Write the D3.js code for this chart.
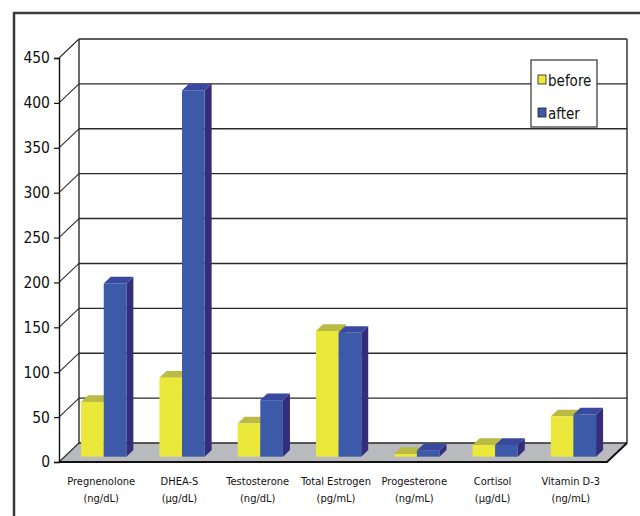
<!DOCTYPE html>
<html>
<head>
<meta charset="utf-8">
<script src="https://cdn.jsdelivr.net/npm/d3@7"></script>
<style>
html,body{margin:0;padding:0;background:#fff;}
svg{display:block;}
text{font-family:"Liberation Sans Narrow","DejaVu Sans Condensed","Arial Narrow",sans-serif;fill:#111;}
</style>
</head>
<body>
<svg id="chart" width="640" height="516"></svg>
<script>
const categories = ["Pregnenolone", "DHEA-S", "Testosterone", "Total Estrogen", "Progesterone", "Cortisol", "Vitamin D-3"];
const units = ["(ng/dL)", "(µg/dL)", "(ng/dL)", "(pg/mL)", "(ng/mL)", "(µg/dL)", "(ng/mL)"];
const seriesNames = ["before", "after"];
const before = [61, 88, 37, 140, 3, 13, 45];
const after = [193, 408, 63, 138, 7, 13, 47];
const yTicks = [0, 50, 100, 150, 200, 250, 300, 350, 400, 450];
const colors = {
  before: {front: "#ebe83c", top: "#b9bb45", side: "#8f9130"},
  after: {front: "#3c5aa8", top: "#3a49a0", side: "#352c7c"}
};

const svg = d3.select("#chart");

// geometry of the 3D box
const frontLeft = 59, frontRight = 607;
const depthX = 20, depthY = -19;       // back wall offset
const yFront = d3.scaleLinear().domain([0, 450]).range([462, 58]);
const yBack = v => yFront(v) + depthY;
const barF0 = 0.28, barF1 = 0.63;      // bar depth fractions

const x0 = d3.scaleBand().domain(categories).range([frontLeft, frontRight]);
const x1 = d3.scaleBand().domain(seriesNames).range([0, x0.bandwidth()]).paddingOuter(0.73);

// outer frame
svg.append("path").attr("d", "M14,516 L14,13 L640,13")
  .attr("fill", "none").attr("stroke", "#3a3a3a").attr("stroke-width", 2.5);

// floor
const bx = frontLeft + depthX, bxr = frontRight + depthX, y0b = yBack(0), y0f = yFront(0);
svg.append("path")
  .attr("d", `M${frontLeft},${y0f} L${frontRight},${y0f} L${bxr},${y0b} L${bx},${y0b} Z`)
  .attr("fill", "#b9babd").attr("stroke", "none");

// back wall gridlines
svg.append("g").selectAll("line").data(yTicks).join("line")
  .attr("x1", bx).attr("x2", bxr)
  .attr("y1", d => yBack(d)).attr("y2", d => yBack(d))
  .attr("stroke", "#2a2a2a").attr("stroke-width", 1.4);
// back wall verticals
svg.append("line").attr("x1", bx).attr("x2", bx).attr("y1", yBack(450)).attr("y2", yBack(0))
  .attr("stroke", "#2a2a2a").attr("stroke-width", 1.4);
svg.append("line").attr("x1", bxr).attr("x2", bxr).attr("y1", yBack(450)).attr("y2", yBack(0))
  .attr("stroke", "#2a2a2a").attr("stroke-width", 1.4);
// left wall diagonals
svg.append("g").selectAll("line").data(yTicks).join("line")
  .attr("x1", frontLeft).attr("x2", bx)
  .attr("y1", d => yFront(d)).attr("y2", d => yBack(d))
  .attr("stroke", "#2a2a2a").attr("stroke-width", 1.1);

// front y axis
const axis = d3.axisLeft(yFront).tickValues(yTicks).tickSize(5).tickPadding(4);
const gAxis = svg.append("g").attr("transform", `translate(${frontLeft},0)`).call(axis);
gAxis.select(".domain").attr("stroke", "#111").attr("stroke-width", 1.4);
gAxis.selectAll(".tick line").attr("stroke", "#111").attr("stroke-width", 1.2);
gAxis.selectAll(".tick text").attr("font-size", 15.5).attr("font-family", null).attr("fill", "#111");

// floor front and right edges
svg.append("path").attr("d", `M${frontLeft},${y0f} L${frontRight},${y0f} L${bxr},${y0b}`)
  .attr("fill", "none").attr("stroke", "#111").attr("stroke-width", 2);

// bars
const rows = categories.map((c, i) => ({cat: c, vals: [{s: "before", v: before[i]}, {s: "after", v: after[i]}]}));
const zeroY = yFront(0) + depthY * barF0;
rows.forEach(r => {
  r.vals.forEach(d => {
    const xl = x0(r.cat) + x1(d.s) + depthX * barF0;
    const xr = xl + x1.bandwidth();
    const yt = yFront(d.v) + depthY * barF0;
    const ddx = depthX * (barF1 - barF0), ddy = depthY * (barF1 - barF0);
    const c = colors[d.s];
    const g = svg.append("g");
    g.append("path").attr("d", `M${xr},${zeroY} L${xr + ddx},${zeroY + ddy} L${xr + ddx},${yt + ddy} L${xr},${yt} Z`)
      .attr("fill", c.side);
    g.append("path").attr("d", `M${xl},${yt} L${xr},${yt} L${xr + ddx},${yt + ddy} L${xl + ddx},${yt + ddy} Z`)
      .attr("fill", c.top);
    g.append("rect").attr("x", xl).attr("y", yt).attr("width", x1.bandwidth()).attr("height", zeroY - yt)
      .attr("fill", c.front);
  });
});

// category labels
const cx = d => x0(d) + x0.bandwidth() / 2 + 3;
const lab = svg.append("g").selectAll("text").data(categories).join("text")
  .attr("text-anchor", "middle").attr("font-size", 11)
  .attr("x", cx).attr("y", 485);
lab.append("tspan").attr("x", cx).text(d => d);
lab.append("tspan").attr("x", cx).attr("dy", 16.5).text((d, i) => units[i]);

// legend
const leg = svg.append("g").attr("transform", "translate(531,60)");
leg.append("rect").attr("x", 0).attr("y", 0).attr("width", 66).attr("height", 67)
  .attr("fill", "#fff").attr("stroke", "#333").attr("stroke-width", 1.2);
const li = leg.selectAll("g.item").data(seriesNames).join("g").attr("class", "item")
  .attr("transform", (d, i) => `translate(0,${i * 33})`);
li.append("rect").attr("x", 7).attr("y", 15).attr("width", 8).attr("height", 9)
  .attr("fill", d => colors[d].front).attr("stroke", "#222").attr("stroke-width", 0.8);
li.append("text").attr("x", 17).attr("y", 26).attr("font-size", 15).text(d => d);
</script>
</body>
</html>
